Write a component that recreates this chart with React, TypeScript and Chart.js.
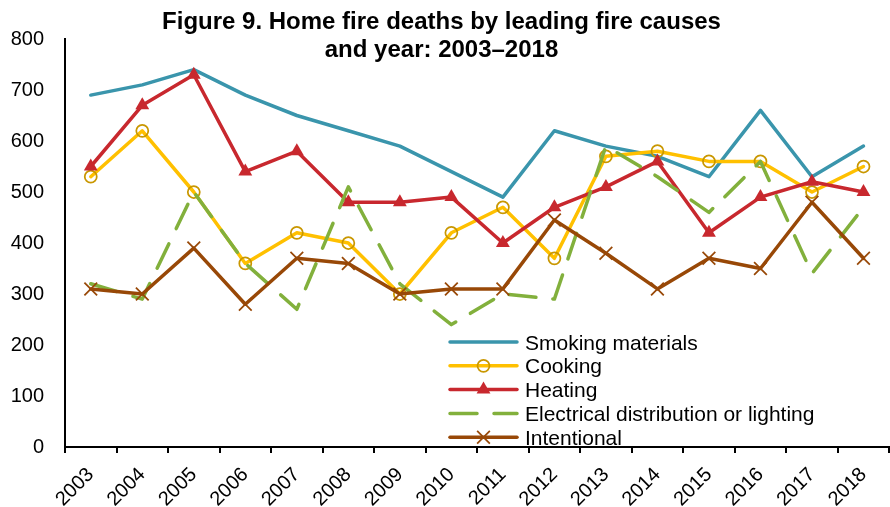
import { useEffect, useRef } from "react";
import { Chart, registerables } from "chart.js";

Chart.register(...registerables);

// Years on the category axis
const years = [
  "2003", "2004", "2005", "2006", "2007", "2008", "2009", "2010",
  "2011", "2012", "2013", "2014", "2015", "2016", "2017", "2018",
];

// Home fire deaths per leading cause
const smoking = [690, 710, 740, 690, 650, 620, 590, 540, 490, 620, 590, 570, 530, 660, 530, 590];
const cooking = [530, 620, 500, 360, 420, 400, 300, 420, 470, 370, 570, 580, 560, 560, 500, 550];
const heating = [550, 670, 730, 540, 580, 480, 480, 490, 400, 470, 510, 560, 420, 490, 520, 500];
const electrical = [320, 290, 500, 360, 270, 510, 320, 240, 300, 290, 590, 530, 460, 560, 340, 470];
const intentional = [310, 300, 390, 280, 370, 360, 300, 310, 310, 445, 380, 310, 370, 350, 480, 370];

const seriesNames = [
  "Smoking materials",
  "Cooking",
  "Heating",
  "Electrical distribution or lighting",
  "Intentional",
];

const titleLines = ["Figure 9. Home fire deaths by leading fire causes", "and year: 2003\u20132018"];

const yMin = 0;
const yMax = 800;
const yStep = 100;

const FONT = "'Liberation Sans', Arial, Helvetica, sans-serif";

const COLORS = {
  smoking: "#3A95AC",
  cooking: "#FFC000",
  cookingMarker: "#C99700",
  heating: "#C8282E",
  electrical: "#82B03C",
  intentional: "#984807",
};

type Marker = "none" | "circle" | "triangle" | "crossRot";

interface LegendEntry {
  label: string;
  color: string;
  width: number;
  dash: number[];
  marker: Marker;
  markerColor: string;
  markerRadius: number;
  markerWidth: number;
}

const legendEntries: LegendEntry[] = [
  { label: seriesNames[0], color: COLORS.smoking, width: 3.5, dash: [], marker: "none", markerColor: COLORS.smoking, markerRadius: 0, markerWidth: 0 },
  { label: seriesNames[1], color: COLORS.cooking, width: 3.5, dash: [], marker: "circle", markerColor: COLORS.cookingMarker, markerRadius: 6, markerWidth: 1.75 },
  { label: seriesNames[2], color: COLORS.heating, width: 3.5, dash: [], marker: "triangle", markerColor: COLORS.heating, markerRadius: 8, markerWidth: 0 },
  { label: seriesNames[3], color: COLORS.electrical, width: 3.5, dash: [27, 17], marker: "none", markerColor: COLORS.electrical, markerRadius: 0, markerWidth: 0 },
  { label: seriesNames[4], color: COLORS.intentional, width: 3.5, dash: [], marker: "crossRot", markerColor: COLORS.intentional, markerRadius: 9, markerWidth: 1.75 },
];

function drawMarker(ctx: CanvasRenderingContext2D, e: LegendEntry, x: number, y: number) {
  const r = e.markerRadius;
  ctx.save();
  ctx.setLineDash([]);
  ctx.strokeStyle = e.markerColor;
  ctx.fillStyle = e.markerColor;
  ctx.lineWidth = e.markerWidth;
  ctx.beginPath();
  if (e.marker === "circle") {
    ctx.arc(x, y, r, 0, Math.PI * 2);
    ctx.stroke();
  } else if (e.marker === "triangle") {
    for (let i = 0; i < 3; i++) {
      const a = (i * 2 * Math.PI) / 3;
      const px = x + Math.sin(a) * r;
      const py = y - Math.cos(a) * r;
      if (i === 0) ctx.moveTo(px, py);
      else ctx.lineTo(px, py);
    }
    ctx.closePath();
    ctx.fill();
  } else if (e.marker === "crossRot") {
    const d = r * Math.SQRT1_2;
    ctx.moveTo(x - d, y - d);
    ctx.lineTo(x + d, y + d);
    ctx.moveTo(x + d, y - d);
    ctx.lineTo(x - d, y + d);
    ctx.stroke();
  }
  ctx.restore();
}

// Two-line bold heading drawn over the top of the plot
const titlePlugin = {
  id: "figureTitle",
  afterDraw(chart: Chart) {
    const ctx = chart.ctx;
    ctx.save();
    ctx.fillStyle = "#000";
    ctx.font = `bold 24px ${FONT}`;
    ctx.textAlign = "center";
    ctx.textBaseline = "alphabetic";
    ctx.fillText(titleLines[0], 441.5, 29);
    ctx.fillText(titleLines[1], 441.5, 56.5);
    ctx.restore();
  },
};

// Series key placed inside the lower right of the plot
const legendPlugin = {
  id: "seriesKey",
  afterDraw(chart: Chart) {
    const ctx = chart.ctx;
    const x0 = 450;
    const x1 = 517;
    const textX = 525;
    const top = 342;
    const step = 23.8;
    ctx.save();
    legendEntries.forEach((e, i) => {
      const y = top + i * step;
      ctx.save();
      ctx.strokeStyle = e.color;
      ctx.lineWidth = e.width;
      ctx.lineCap = "round";
      ctx.setLineDash(e.dash);
      ctx.beginPath();
      ctx.moveTo(x0, y);
      ctx.lineTo(x1, y);
      ctx.stroke();
      ctx.restore();
      if (e.marker !== "none") drawMarker(ctx, e, (x0 + x1) / 2, y);
      ctx.fillStyle = "#000";
      ctx.font = `21px ${FONT}`;
      ctx.textAlign = "left";
      ctx.textBaseline = "alphabetic";
      ctx.fillText(e.label, textX, y + 7.5);
    });
    ctx.restore();
  },
};

export default function App() {
  const canvasRef = useRef<HTMLCanvasElement>(null);

  useEffect(() => {
    const canvas = canvasRef.current;
    if (!canvas) return;

    const common = {
      fill: false,
      tension: 0,
      borderWidth: 3.5,
      borderJoinStyle: "round" as const,
      borderCapStyle: "round" as const,
    };

    const chart = new Chart(canvas, {
      type: "line",
      data: {
        labels: years,
        datasets: [
          {
            ...common,
            label: seriesNames[0],
            data: smoking,
            borderColor: COLORS.smoking,
            pointRadius: 0,
            order: 4,
          },
          {
            ...common,
            label: seriesNames[1],
            data: cooking,
            borderColor: COLORS.cooking,
            pointStyle: "circle",
            pointRadius: 6,
            pointBackgroundColor: "rgba(255,255,255,0)",
            pointBorderColor: COLORS.cookingMarker,
            pointBorderWidth: 1.75,
            order: 3,
          },
          {
            ...common,
            label: seriesNames[2],
            data: heating,
            borderColor: COLORS.heating,
            pointStyle: "triangle",
            pointRadius: 8,
            pointBackgroundColor: COLORS.heating,
            pointBorderColor: COLORS.heating,
            pointBorderWidth: 0,
            order: 2,
          },
          {
            ...common,
            label: seriesNames[3],
            data: electrical,
            borderColor: COLORS.electrical,
            borderDash: [27, 17],
            pointRadius: 0,
            order: 1,
          },
          {
            ...common,
            label: seriesNames[4],
            data: intentional,
            borderColor: COLORS.intentional,
            pointStyle: "crossRot",
            pointRadius: 9,
            pointBorderColor: COLORS.intentional,
            pointBorderWidth: 1.75,
            order: 0,
          },
        ],
      },
      options: {
        responsive: false,
        animation: false,
        devicePixelRatio: 1,
        events: [],
        layout: { padding: { top: 39, right: 7, left: 0, bottom: 0 } },
        plugins: {
          legend: { display: false },
          title: { display: false },
          tooltip: { enabled: false },
        },
        scales: {
          x: {
            type: "category",
            offset: true,
            grid: {
              display: true,
              drawOnChartArea: false,
              drawTicks: true,
              tickLength: 6,
              offset: true,
              color: "#000",
              lineWidth: 2,
            },
            border: { display: true, color: "#000", width: 2 },
            ticks: {
              autoSkip: false,
              minRotation: 45,
              maxRotation: 45,
              padding: 10,
              color: "#000",
              font: { family: FONT, size: 20 },
            },
            afterFit: (scale: any) => {
              scale.height = 60;
            },
          },
          y: {
            type: "linear",
            min: yMin,
            max: yMax,
            grid: { display: false, drawTicks: false },
            border: { display: true, color: "#000", width: 2 },
            ticks: {
              stepSize: yStep,
              padding: 21,
              color: "#000",
              font: { family: FONT, size: 20 },
            },
            afterFit: (scale: any) => {
              scale.width = 65;
            },
          },
        },
      },
      plugins: [titlePlugin, legendPlugin],
    });

    return () => chart.destroy();
  }, []);

  return (
    <div
      style={{
        position: "fixed",
        left: 0,
        top: 0,
        width: 890,
        height: 507,
        overflow: "hidden",
        background: "#fff",
      }}
    >
      <canvas ref={canvasRef} width={900} height={507} style={{ display: "block" }} />
    </div>
  );
}
